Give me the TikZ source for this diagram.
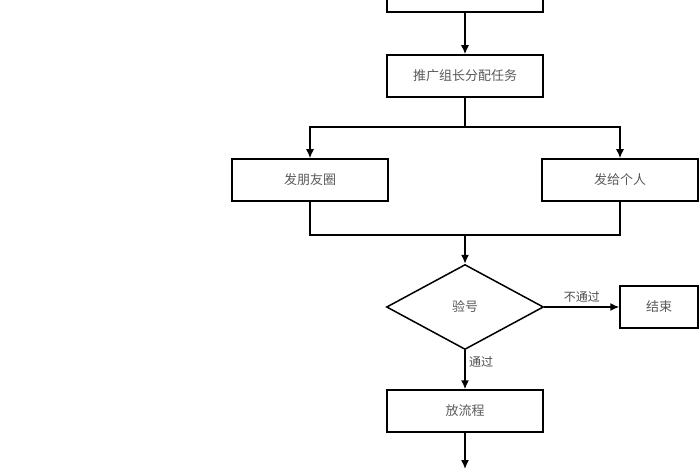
\documentclass[tikz,border=0pt]{standalone}
\usepackage{fontspec}
\newfontfamily\cjk{Noto Sans CJK SC}
\usetikzlibrary{shapes.geometric,arrows.meta}
\tikzset{
  stepbox/.style={draw, line width=1.5pt, minimum width=156pt, minimum height=42pt, inner sep=0pt, font=\cjk\fontsize{13}{15}\selectfont, text=black!65},
  check/.style={draw, diamond, aspect=1.85, line width=1.5pt, minimum width=157pt, minimum height=85pt, inner sep=0pt, font=\cjk\fontsize{13}{15}\selectfont, text=black!65},
  flow/.style={line width=1.5pt, -{Latex[length=9pt,width=8pt]}},
  link/.style={line width=1.5pt}
}
\begin{document}
\begin{tikzpicture}[x=1pt,y=-1pt]
\useasboundingbox (0,0) rectangle (700,470);
\clip (0,0) rectangle (700,470);

% boxes
\node[stepbox] (start) at (465,-9) {};
\node[stepbox] (assign) at (465,76) {推广组长分配任务};
\node[stepbox] (moments) at (310,180) {发朋友圈};
\node[stepbox] (personal) at (620,180) {发给个人};
\node[check] (verify) at (465,307) {验号};
\node[stepbox, minimum width=78pt] (finish) at (659,307) {结束};
\node[stepbox] (release) at (465,411) {放流程};
\coordinate (next) at (465,469);

% split
\coordinate (split) at (465,127);
\draw[flow] (start) -- (assign);
\draw[link] (assign) -- (split);
\draw[flow] (split) -| (moments.north);
\draw[flow] (split) -| (personal.north);

% merge
\coordinate (merge) at (465,235);
\draw[link] (moments.south) |- (merge);
\draw[link] (personal.south) |- (merge);
\draw[flow] (merge) -- (verify.north);

% decision
\draw[flow] (verify.east) -- node[above, font=\cjk\fontsize{12}{14}\selectfont, text=black!70] {不通过} (finish.west);
\draw[flow] (verify.south) -- node[right, pos=0.3, font=\cjk\fontsize{12}{14}\selectfont, text=black!70] {通过} (release.north);
\draw[flow] (release) -- (next);

\end{tikzpicture}
\end{document}
